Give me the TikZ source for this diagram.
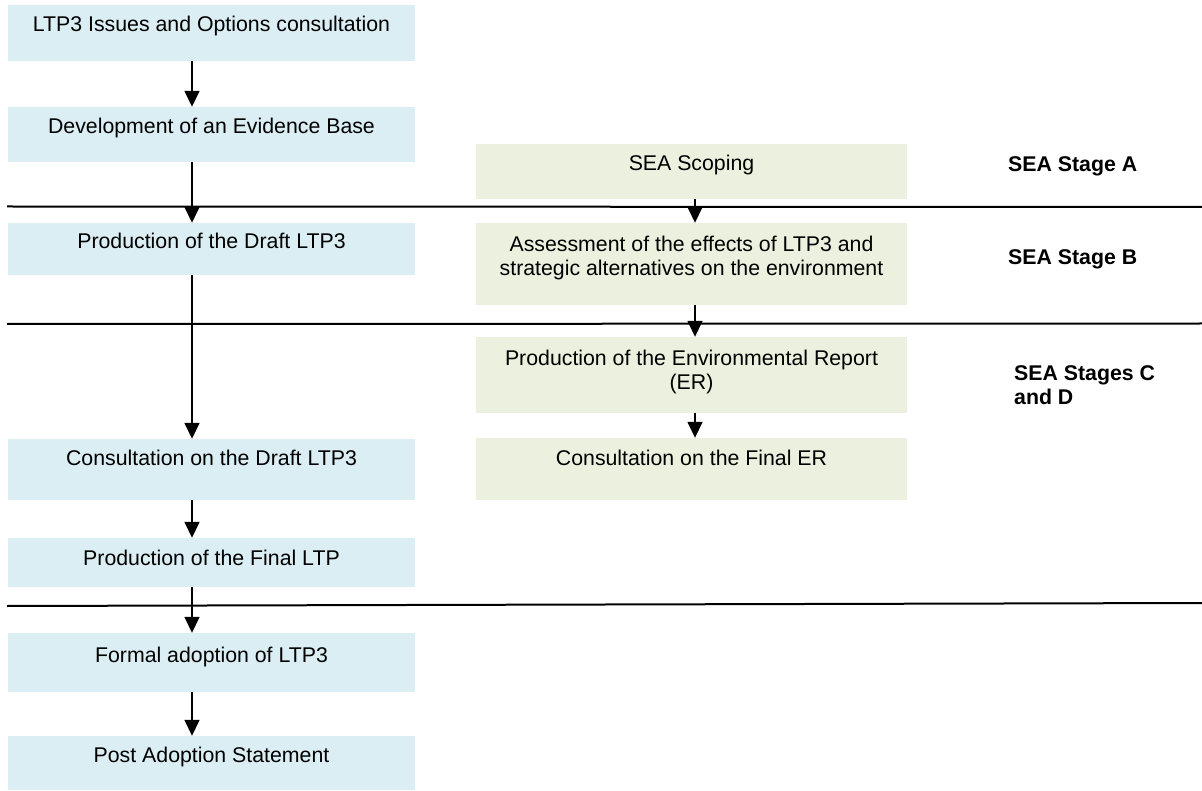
\documentclass[tikz,border=0pt]{standalone}
\usepackage{fontspec}
\setmainfont{Liberation Sans}
\usetikzlibrary{arrows.meta,calc}
\definecolor{lblue}{HTML}{DAEEF3}
\definecolor{lgreen}{HTML}{EBF1DE}
\begin{document}
\begin{tikzpicture}[x=1pt,y=-1pt,
 lbox/.style={fill=lblue, draw=none, minimum width=407pt, inner sep=0pt},
 rbox/.style={fill=lgreen, draw=none, minimum width=431pt, inner sep=0pt},
 txt/.style={font=\fontsize{21.3}{24}\selectfont, align=center, inner sep=0pt},
 one/.style={text height=1.5ex, text depth=0.25ex},
 stage/.style={font=\fontsize{21.3}{24}\selectfont\bfseries, align=left, anchor=west, inner sep=0pt},
 arr/.style={line width=1.6pt, -{Triangle[width=15pt,length=16pt]}},
 sepline/.style={line width=2pt}]
\useasboundingbox (0,0) rectangle (1202,791);
% left column boxes
\node[lbox, minimum height=56pt] (b1) at (211.5,33) {};
\node[lbox, minimum height=55pt] (b2) at (211.5,134.5) {};
\node[lbox, minimum height=52pt] (b3) at (211.5,249) {};
\node[lbox, minimum height=61pt] (b4) at (211.5,469.5) {};
\node[lbox, minimum height=49pt] (b5) at (211.5,562.5) {};
\node[lbox, minimum height=59pt] (b6) at (211.5,662.5) {};
\node[lbox, minimum height=54pt] (b7) at (211.5,763) {};
% right column boxes
\node[rbox, minimum height=55pt] (r1) at (691.5,171.5) {};
\node[rbox, minimum height=82pt] (r2) at (691.5,264) {};
\node[rbox, minimum height=76pt] (r3) at (691.5,375) {};
\node[rbox, minimum height=62pt] (r4) at (691.5,469) {};
% texts
\node[txt,one] (t1) at ([yshift=-23pt]b1.north) {LTP3 Issues and Options consultation};
\node[txt,one] (t2) at ([yshift=-23pt]b2.north) {Development of an Evidence Base};
\node[txt,one] (t3) at ([yshift=-22pt]b3.north) {Production of the Draft LTP3};
\node[txt,one] (t4) at ([yshift=-23pt]b4.north) {Consultation on the Draft LTP3};
\node[txt,one] (t5) at ([yshift=-24pt]b5.north) {Production of the Final LTP};
\node[txt,one] (t6) at ([yshift=-26pt]b6.north) {Formal adoption of LTP3};
\node[txt,one] (t7) at ([yshift=-23pt]b7.north) {Post Adoption Statement};
\node[txt,one] (s1) at ([yshift=-23pt]r1.north) {SEA Scoping};
\node[txt] (s2) at ([yshift=-35.5pt]r2.north) {Assessment of the effects of LTP3 and\\strategic alternatives on the environment};
\node[txt] (s3) at ([yshift=-35.5pt]r3.north) {Production of the Environmental Report\\(ER)};
\node[txt,one] (s4) at ([yshift=-24pt]r4.north) {Consultation on the Final ER};
% stage labels
\node[stage] (la) at (1008,166) {SEA Stage A};
\node[stage] (lb) at (1008,259) {SEA Stage B};
\node[stage] (lc) at (1014,385) {SEA Stages C\\and D};
% separator lines
\coordinate (h1a) at (7,206.5); \coordinate (h1b) at (1202,207);
\coordinate (h2a) at (7,324); \coordinate (h2b) at (1202,323.5);
\coordinate (h3a) at (7,606); \coordinate (h3b) at (1202,603);
\draw[sepline] (h1a) -- (h1b);
\draw[sepline] (h2a) -- (h2b);
\draw[sepline] (h3a) -- (h3b);
% arrow columns
\coordinate (lx) at (192,0);
\coordinate (rx) at (695,0);
\draw[arr] (b1.south -| lx) -- (b2.north -| lx);
\draw[arr] (b2.south -| lx) -- (b3.north -| lx);
\draw[arr] (b3.south -| lx) -- (b4.north -| lx);
\draw[arr] (b4.south -| lx) -- (b5.north -| lx);
\draw[arr] (b5.south -| lx) -- (b6.north -| lx);
\draw[arr] (b6.south -| lx) -- (b7.north -| lx);
\draw[arr] (r1.south -| rx) -- (r2.north -| rx);
\draw[arr] (r2.south -| rx) -- (r3.north -| rx);
\draw[arr] (r3.south -| rx) -- (r4.north -| rx);
\end{tikzpicture}
\end{document}
